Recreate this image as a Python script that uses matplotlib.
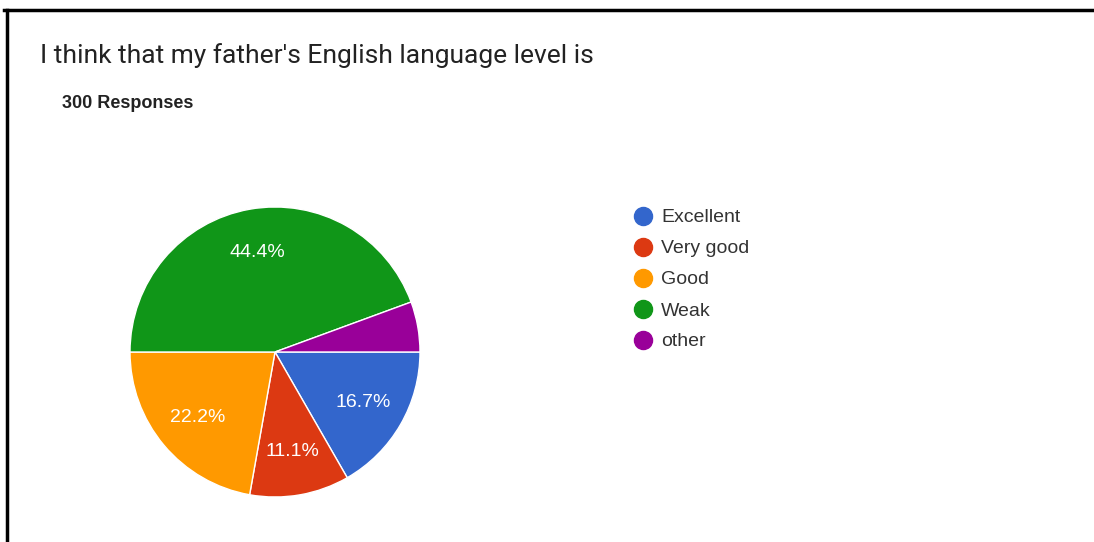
import matplotlib.pyplot as plt
from matplotlib.lines import Line2D

labels = ['Excellent', 'Very good', 'Good', 'Weak', 'other']
shares = [16.7, 11.1, 22.2, 44.4, 5.6]
colors = ['#3366cc', '#dc3912', '#ff9900', '#109618', '#990099']

title = "I think that my father's English language level is"
subtitle = '300 Responses'

W, H = 1094, 542
fig = plt.figure(figsize=(W / 100, H / 100), dpi=100)
fig.patch.set_facecolor('white')

# frame lines along the top and left edge
fig.add_artist(Line2D([4 / W, 1], [1 - 9.5 / H, 1 - 9.5 / H], color='black', lw=2.5))
fig.add_artist(Line2D([6.5 / W, 6.5 / W], [0, 1 - 9.5 / H], color='black', lw=2.5))

fig.text(40 / W, 1 - 63 / H, title, fontsize=19, color='#222222', family='Roboto')
fig.text(62 / W, 1 - 101 / H, subtitle, fontsize=13, color='#222222',
         family='Liberation Sans', fontweight='bold', va='center_baseline')

cx, cy, r = 275, 352, 145
ax = fig.add_axes([(cx - r) / W, (H - cy - r) / H, 2 * r / W, 2 * r / H])


def pct_label(p):
    return f'{p:.1f}%' if p > 8 else ''


wedges, texts, autotexts = ax.pie(
    shares, colors=colors, startangle=0, counterclock=False,
    autopct=pct_label, pctdistance=0.7,
    wedgeprops=dict(edgecolor='white', linewidth=1),
    textprops=dict(color='white', fontsize=14, family='Liberation Sans'))
ax.set_xlim(-1, 1)
ax.set_ylim(-1, 1)
ax.set_aspect('equal')
ax.axis('off')

# legend: coloured dots with labels, one row every 31 px
for i, (lab, c) in enumerate(zip(labels, colors)):
    y = 1 - (216 + 31 * i) / H
    fig.add_artist(Line2D([643 / W], [y], marker='o', linestyle='',
                          markersize=13, markerfacecolor=c, markeredgecolor=c))
    fig.text(661 / W, y, lab, fontsize=14, color='#333333',
             family='Liberation Sans', va='center_baseline')

fig.savefig('out.png', dpi=100)
